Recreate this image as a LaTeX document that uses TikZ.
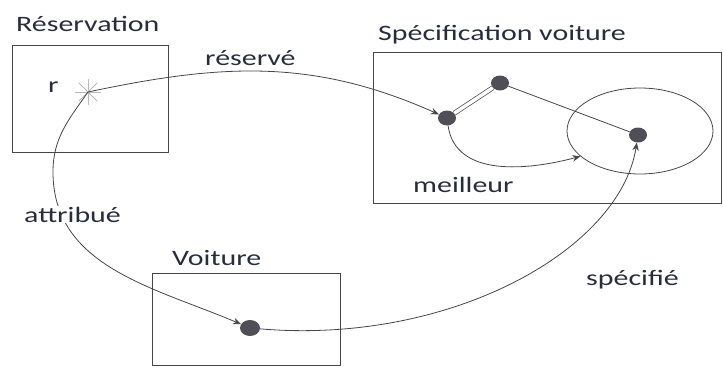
\documentclass[tikz,border=0pt]{standalone}
\usepackage{fontspec}
\setmainfont{Carlito}
\usepackage{graphicx}
\usetikzlibrary{arrows.meta,shapes.geometric,calc}
\definecolor{txt}{RGB}{40,45,62}
\definecolor{ln}{RGB}{70,70,72}
\definecolor{dotc}{RGB}{80,78,86}
\newcommand\wtext[1]{\scalebox{1.36}[1]{#1}}
\begin{document}
\begin{tikzpicture}[x=1pt,y=-1pt,
  box/.style={draw=ln, line width=0.9pt, inner sep=0pt},
  lbl/.style={anchor=base west, inner sep=0pt, text=txt, font=\fontsize{22}{26}\selectfont},
  dot/.style={ellipse, fill=dotc, minimum width=18pt, minimum height=15pt, inner sep=0pt},
  conn/.style={draw=ln, line width=0.8pt},
  arr/.style={conn, -{Stealth[length=8pt,width=6.5pt]}}]
\useasboundingbox (0,0) rectangle (723,367);
% boxes
\node[box, minimum width=156pt, minimum height=107pt] (resbox) at (90,98.5) {};
\node[box, minimum width=348pt, minimum height=151pt] (specbox) at (547,127.5) {};
\node[box, minimum width=188pt, minimum height=92pt] (voitbox) at (246,319) {};
\node[draw=ln, line width=0.8pt, ellipse, minimum width=146pt, minimum height=86pt] (ell) at (640,131) {};
% titles
\node[lbl] (tres) at (16,31) {\wtext{Réservation}};
\node[lbl] (tspec) at (378,40) {\wtext{Spécification voiture}};
\node[lbl] (tvoit) at (172,265) {\wtext{Voiture}};
\node[lbl] (tr) at (48,92) {\wtext{r}};
% asterisk
\coordinate (ast) at (88,92);
\foreach \a in {0,45,90,135}
  \draw[gray!55, line width=0.8pt] ($(ast)+(\a:13pt)$) -- ($(ast)+(\a+180:13pt)$);
% dots
\node[dot] (d1) at (447,118) {};
\node[dot] (d2) at (500,83) {};
\node[dot] (d3) at (638,135) {};
\node[dot, minimum width=20pt, minimum height=16pt] (vd) at (250,328) {};
% connectors
\coordinate (awest) at (53,172);
\draw[conn, double=white, double distance=3.5pt, line width=0.7pt] (d1) -- (d2);
\draw[conn] (d2) -- (d3);
\draw[arr] (ast) to[out=12,in=156] (d1);
\draw[arr] (d1) to[out=-82,in=195] (ell.203);
\draw[arr] (ast) to[out=235,in=90] (awest) to[out=270,in=157] (vd);
\draw[arr] (vd) .. controls (450,345) and (620,250) .. (d3);
% labels
\node[lbl] (lres) at (205,65) {\wtext{réservé}};
\node[lbl] (lmeil) at (413,192) {\wtext{meilleur}};
\node[lbl, fill=white, inner sep=1pt] (lattr) at (23,222) {\wtext{attribué}};
\node[lbl] (lspec) at (586,285) {\wtext{spécifié}};
\end{tikzpicture}
\end{document}
